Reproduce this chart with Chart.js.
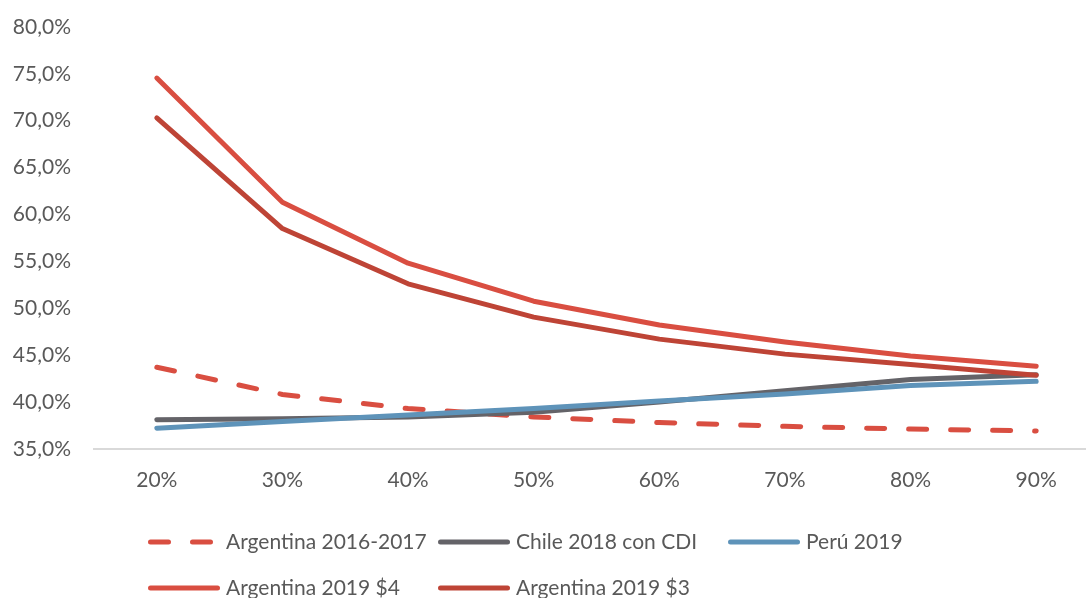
<!DOCTYPE html>
<html>
<head>
<meta charset="utf-8">
<script src="https://cdn.jsdelivr.net/npm/chart.js@4/dist/chart.umd.min.js"></script>
<style>
  html, body { margin: 0; padding: 0; background: #ffffff; overflow: hidden; }
  #wrap { width: 1110px; height: 598px; position: relative; }
</style>
</head>
<body>
<div id="wrap"><canvas id="chart"></canvas></div>
<script>
// Categories along the horizontal axis
const categories = ['20%', '30%', '40%', '50%', '60%', '70%', '80%', '90%'];

// Series values (percent)
const argentina20162017 = [43.7, 40.8, 39.3, 38.4, 37.8, 37.4, 37.1, 36.9];
const chile2018CDI      = [38.1, 38.2, 38.4, 38.9, 40.0, 41.2, 42.4, 42.9];
const peru2019          = [37.2, 37.9, 38.6, 39.3, 40.1, 40.85, 41.75, 42.2];
const argentina2019s4   = [74.55, 61.3, 54.8, 50.75, 48.2, 46.4, 44.9, 43.8];
const argentina2019s3   = [70.3, 58.5, 52.6, 49.05, 46.7, 45.1, 44.0, 42.85];

// Series names
const seriesNames = ['Argentina 2016-2017', 'Chile 2018 con CDI', 'Perú 2019', 'Argentina 2019 $4', 'Argentina 2019 $3'];

// Vertical axis range
const yMin = 35;
const yMax = 80;
const yStep = 5;

const FONT = 'Lato';
const TEXT_COLOR = '#595959';
const LINE_W = 5;

function lineSet(label, data, color, idx, dash) {
  return {
    label: label,
    data: data,
    borderColor: color,
    backgroundColor: color,
    borderWidth: LINE_W,
    borderDash: dash || [],
    borderCapStyle: 'round',
    borderJoinStyle: 'round',
    pointRadius: 0,
    pointHoverRadius: 0,
    tension: 0,
    fill: false,
    order: 10 - idx
  };
}

// Legend laid out as a fixed three-column grid under the plot
const gridLegend = {
  id: 'gridLegend',
  afterDraw(chart) {
    const ctx = chart.ctx;
    ctx.save();
    ctx.font = '21px ' + FONT;
    ctx.textBaseline = 'middle';
    ctx.textAlign = 'left';
    chart.data.datasets.forEach((ds, i) => {
      const col = i % 3;
      const row = Math.floor(i / 3);
      const x = 148 + col * 290;
      const y = 542 + row * 46;
      const dashed = ds.borderDash && ds.borderDash.length;
      ctx.beginPath();
      ctx.strokeStyle = ds.borderColor;
      ctx.lineWidth = ds.borderWidth;
      ctx.lineCap = 'round';
      ctx.setLineDash(dashed ? ds.borderDash : []);
      ctx.moveTo(x + 2.5, y);
      ctx.lineTo(x + (dashed ? 63 : 69.5), y);
      ctx.stroke();
      ctx.setLineDash([]);
      ctx.fillStyle = TEXT_COLOR;
      ctx.fillText(ds.label, x + 78, y);
    });
    ctx.restore();
  }
};

const ctx = document.getElementById('chart').getContext('2d');
new Chart(ctx, {
  type: 'line',
  data: {
    labels: categories,
    datasets: [
      lineSet(seriesNames[0], argentina20162017, '#D94E41', 0, [18, 24]),
      lineSet(seriesNames[1], chile2018CDI, '#646368', 1),
      lineSet(seriesNames[2], peru2019, '#5E93B9', 2),
      lineSet(seriesNames[3], argentina2019s4, '#D94E41', 3),
      lineSet(seriesNames[4], argentina2019s3, '#BE4436', 4)
    ]
  },
  options: {
    responsive: true,
    maintainAspectRatio: false,
    animation: false,
    layout: { padding: { top: 27, right: 11, left: 0, bottom: 86 } },
    plugins: {
      legend: { display: false },
      tooltip: { enabled: false }
    },
    scales: {
      x: {
        offset: true,
        grid: { display: false, drawTicks: false, offset: true },
        border: { display: true, color: '#D9D9D9', width: 2 },
        ticks: {
          color: TEXT_COLOR,
          font: { family: FONT, size: 21, lineHeight: 1.2 },
          padding: 19,
          maxRotation: 0,
          autoSkip: false
        }
      },
      y: {
        min: yMin,
        max: yMax,
        grid: { display: false, drawTicks: false },
        border: { display: false },
        ticks: {
          stepSize: yStep,
          color: TEXT_COLOR,
          font: { family: FONT, size: 21, lineHeight: 1.2 },
          padding: 23,
          callback: (v) => v.toFixed(1).replace('.', ',') + '%'
        },
        afterFit(scale) {
          scale.width = 94;
          scale.paddingTop = 0;
          scale.paddingBottom = 0;
        }
      }
    }
  },
  plugins: [gridLegend]
});
</script>
</body>
</html>
